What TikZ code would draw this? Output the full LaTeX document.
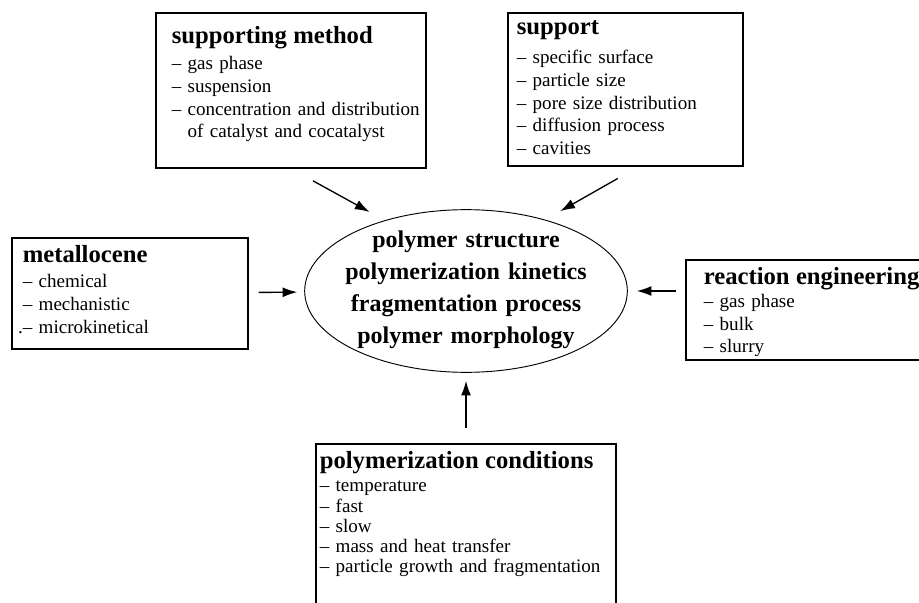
\documentclass[tikz,border=0pt]{standalone}
\usepackage{fontspec}
\setmainfont{Liberation Serif}
\usetikzlibrary{arrows.meta,shapes.geometric}

\newcommand{\boxtitle}[1]{{\fontsize{18.5}{17}\selectfont\bfseries #1}}
\newcommand{\dashindent}{\phantom{–\ }}

\begin{document}
\begin{tikzpicture}[x=0.75pt,y=0.75pt,yscale=-1,
  infobox/.style={draw, line width=1.2pt, anchor=north west, align=left, inner ysep=0pt, font=\fontsize{14.3}{17}\selectfont},
  arr/.style={-{Latex[length=11pt,width=7.5pt]}, line width=1pt}]
\useasboundingbox (0,0) rectangle (919,602);

%Shape: Ellipse [id:core]
\node[draw, ellipse, line width=0.7pt, inner xsep=-7pt, inner ysep=0pt, minimum width=242pt, minimum height=122pt, text width=185pt, align=center, text height=10pt, text depth=76pt, font=\fontsize{18}{24}\selectfont\bfseries] (core) at (466,291) {polymer structure\\ polymerization kinetics\\ fragmentation process\\ polymer morphology};

%Shape: Rectangle [id:suppmeth]
\node[infobox, text width=178.5pt, inner xsep=12pt, text height=23.25pt, text depth=93pt] (suppmeth) at (155,12) {\boxtitle{supporting method}\\[2.5pt] – gas phase\\ – suspension\\ \mbox{– concentration and distribution}\\ \dashindent of catalyst and cocatalyst};
%Shape: Rectangle [id:support]
\node[infobox, text width=162.75pt, inner xsep=6.75pt, text height=16.5pt, text depth=98.25pt] (support) at (507,12) {\boxtitle{support}\\[4.75pt] – specific surface\\ – particle size\\ – pore size distribution\\ – diffusion process\\ – cavities};
%Shape: Rectangle [id:metal]
\node[infobox, text width=160.5pt, inner xsep=8.25pt, text height=18.75pt, text depth=64.5pt] (metal) at (11,237) {\boxtitle{metallocene}\\[1.75pt] – chemical\\ – mechanistic\\ \mbox{\llap{.}– microkinetical}};
%Shape: Rectangle [id:react]
\node[infobox, text width=168pt, inner xsep=13.5pt, text height=18.75pt, text depth=56.25pt] (react) at (685,259) {\boxtitle{reaction engineering}\\ – gas phase\\ – bulk\\ – slurry};
%Shape: Rectangle [id:cond]
\node[infobox, text width=219pt, inner xsep=3pt, text height=18.75pt, text depth=114pt, font=\fontsize{14.3}{15.2}\selectfont] (cond) at (315,443) {\boxtitle{polymerization conditions}\\[2pt] – temperature\\ – fast\\ – slow\\ – mass and heat transfer\\ – particle growth and fragmentation};

%Straight Lines [arrows into the ellipse]
\draw[arr, shorten <=19pt, shorten >=13pt] (suppmeth.south) -- (core.139);
\draw[arr, shorten <=18pt, shorten >=13pt] ([xshift=10pt]support.south) -- (core.42);
\draw[arr, shorten <=7.5pt, shorten >=5.25pt] (metal) -- (core);
\draw[arr, shorten <=6.75pt, shorten >=6.75pt] (react.west |- core.east) -- (core.east);
\draw[arr, shorten <=11.25pt, shorten >=6pt] (core.south |- cond.north) -- (core.south);
\end{tikzpicture}
\end{document}
